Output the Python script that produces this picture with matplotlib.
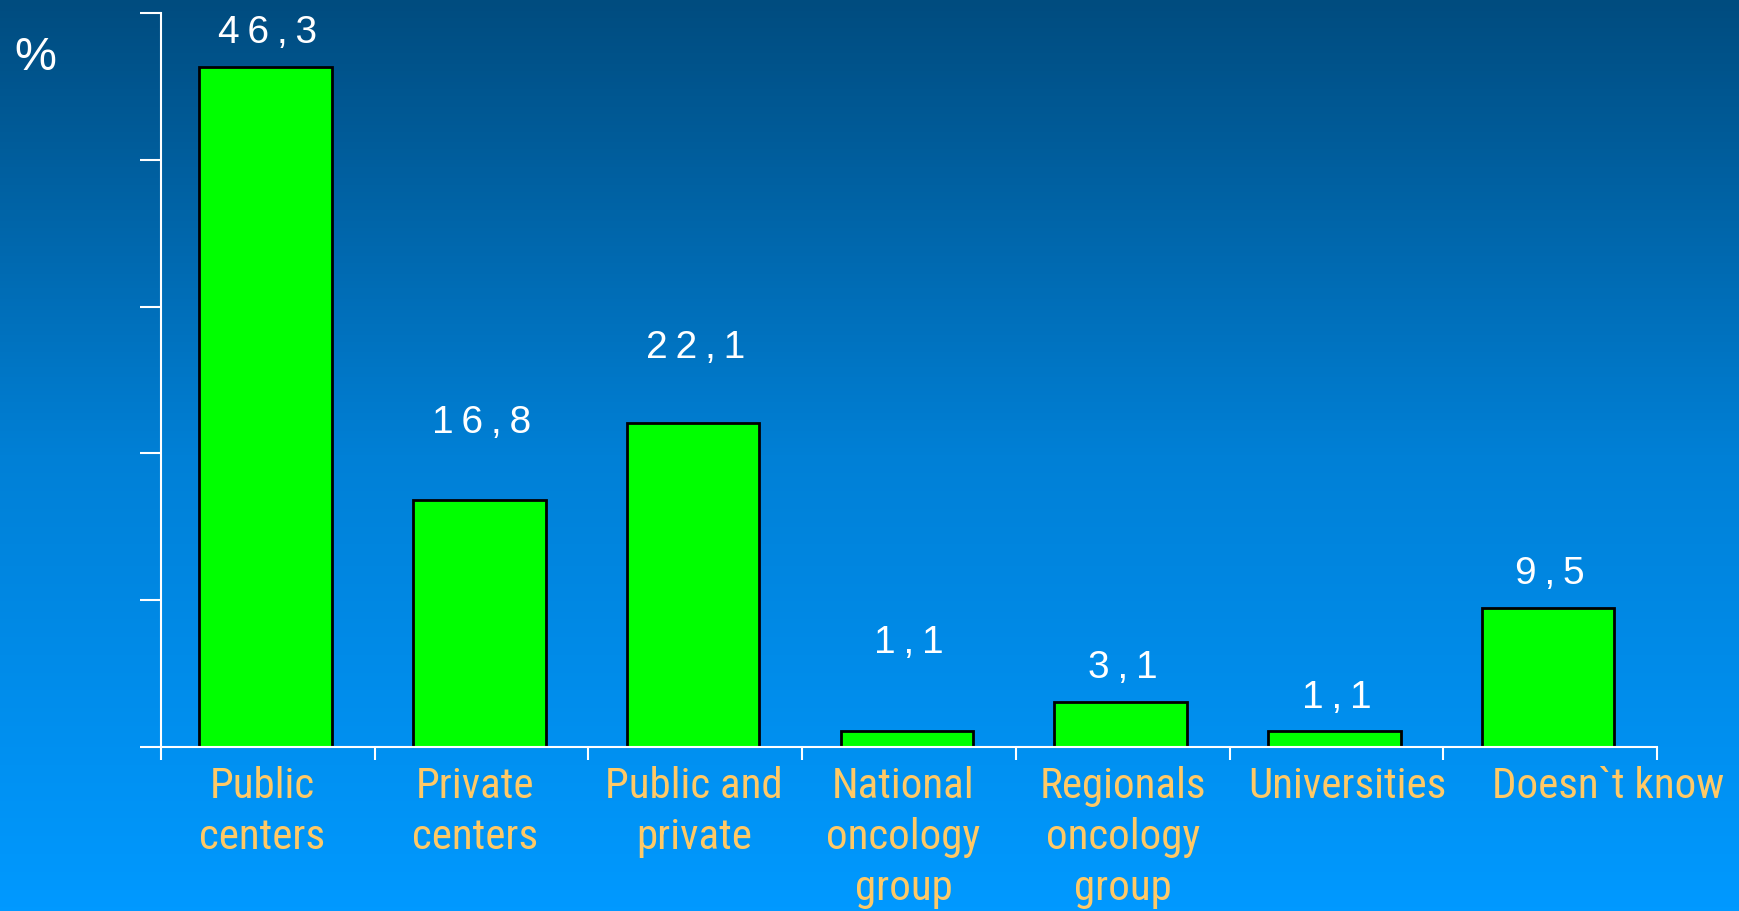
import numpy as np
import matplotlib
matplotlib.use("Agg")
import matplotlib.pyplot as plt
from matplotlib import font_manager as fm
from matplotlib.colors import LinearSegmentedColormap

# Datos del gráfico
categorias = ["Public\ncenters", "Private\ncenters", "Public and\nprivate",
              "National\noncology\ngroup", "Regionals\noncology\ngroup",
              "Universities", "Doesn`t know"]
valores = [46.3, 16.8, 22.1, 1.1, 3.1, 1.1, 9.5]
etiquetas = ["46,3", "16,8", "22,1", "1,1", "3,1", "1,1", "9,5"]

# separación (en puntos) entre el techo de cada barra y su etiqueta
desplaz_etiqueta = [25, 56, 54, 63, 24, 24, 24]
# desplazamiento horizontal (en puntos) de las etiquetas de categoría
desplaz_categoria = [-4, -5, -1, -4, 0, 8, 42]

# Fuente estrecha para las categorías (la primera que esté instalada)
instaladas = {f.name for f in fm.fontManager.ttflist}
candidatas = ["Liberation Sans Narrow", "Arial Narrow", "Nimbus Sans Narrow",
              "Roboto Condensed", "Archivo Narrow", "PT Sans Narrow", "Asap Condensed"]
fuente_estrecha = next((c for c in candidatas if c in instaladas), "DejaVu Sans")

fig = plt.figure(figsize=(17.4, 9.11), dpi=100)

# Fondo degradado azul
fondo = fig.add_axes([0, 0, 1, 1], zorder=-10)
grad = np.linspace(0, 1, 256).reshape(-1, 1)
cmap = LinearSegmentedColormap.from_list(
    "fondo", [(0.0, "#004C7F"), (0.5, "#0080D6"), (1.0, "#0099FF")])
fondo.imshow(grad, aspect="auto", cmap=cmap, extent=[0, 1, 0, 1], origin="upper")
fondo.axis("off")

ax = fig.add_axes([0.0925, 0.180, 0.8598, 0.8057])
ax.patch.set_alpha(0)

x = np.arange(len(valores))
ax.bar(x - 0.01, valores, width=0.62, color="#00FF00", edgecolor="black", linewidth=2)

# Etiquetas de valor (con un espacio fino entre caracteres)
for xi, v, txt, d in zip(x, valores, etiquetas, desplaz_etiqueta):
    ax.annotate("\u2009".join(txt), (xi, v), xytext=(0, d), textcoords="offset points",
                ha="center", va="center", color="white", fontsize=28,
                family=["Liberation Sans", "DejaVu Sans"])

ax.set_xlim(-0.5, len(valores) - 0.5)
ax.set_ylim(0, 50)

ax.set_yticks(np.arange(0, 51, 10))
ax.set_yticklabels([])
ax.set_xticks(np.arange(-0.5, len(valores), 1))
ax.set_xticklabels([])
ax.tick_params(axis="y", direction="out", length=15, width=1.5, color="white")
ax.tick_params(axis="x", direction="out", length=9, width=1.5, color="white")

for lado in ["top", "right"]:
    ax.spines[lado].set_visible(False)
for lado in ["left", "bottom"]:
    ax.spines[lado].set_color("white")
    ax.spines[lado].set_linewidth(1.5)

# Etiquetas de categorías
for xi, cat, dx in zip(x, categorias, desplaz_categoria):
    ax.annotate(cat, (xi, 0), xytext=(dx, -14), textcoords="offset points",
                ha="center", va="top", color="#FFC966", fontsize=31,
                family=[fuente_estrecha, "DejaVu Sans"], linespacing=1.3,
                annotation_clip=False)

fig.text(35 / 1740, 1 - 58 / 911, "%", color="white", fontsize=34,
         ha="center", va="center", family=["Liberation Sans", "DejaVu Sans"])

fig.savefig("out.png", dpi=100)
